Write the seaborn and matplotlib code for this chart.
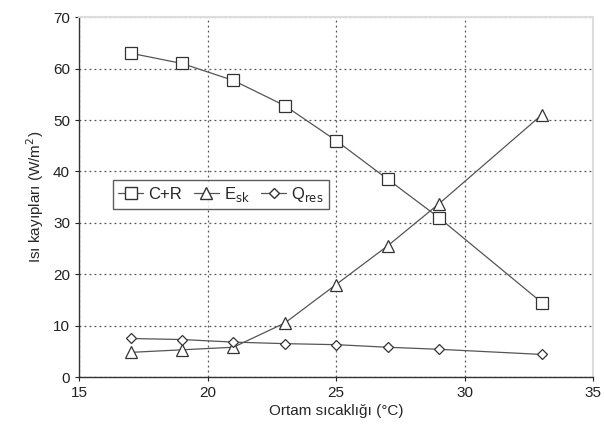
import numpy as np
import pandas as pd
import seaborn as sns
import matplotlib.pyplot as plt
from matplotlib.lines import Line2D

temperature = [17, 19, 21, 23, 25, 27, 29, 33]
c_plus_r = [63.0, 61.0, 57.7, 52.8, 46.0, 38.5, 31.0, 14.5]
e_sk = [4.8, 5.3, 5.8, 10.5, 18.0, 25.5, 33.7, 51.0]
q_res = [7.5, 7.3, 6.8, 6.5, 6.3, 5.8, 5.4, 4.4]

series_names = ["C+R", "E$_{\\mathrm{sk}}$", "Q$_{\\mathrm{res}}$"]
series_markers = ["s", "^", "D"]
marker_sizes = [8, 8, 5.5]

df = pd.DataFrame({"T": temperature, "C+R": c_plus_r, "E": e_sk, "Q": q_res})
long_df = df.melt(id_vars="T", var_name="series", value_name="loss")

sns.set_style("white")
plt.rcParams["font.family"] = ["Liberation Sans", "DejaVu Sans"]

fig = plt.figure(figsize=(6.04, 4.41), dpi=100)
ax = fig.add_axes([0.131, 0.145, 0.851, 0.816])

for key, mk, ms in zip(["C+R", "E", "Q"], series_markers, marker_sizes):
    sub = long_df[long_df["series"] == key]
    sns.lineplot(data=sub, x="T", y="loss", ax=ax, color="#555555", linewidth=0.9,
                 marker=mk, markersize=ms, markerfacecolor="white",
                 markeredgecolor="#333333", markeredgewidth=0.9, legend=False)

ax.set_xlim(15, 35)
ax.set_ylim(0, 70)
ax.set_xticks(range(15, 36, 5))
ax.set_yticks(range(0, 71, 10))
ax.grid(True, linestyle=(0, (1.5, 2.5)), color="#555555", linewidth=0.9)
ax.tick_params(axis="both", labelsize=11, length=3, direction="out", colors="#222222")
ax.tick_params(left=True, bottom=True)

for side in ["top", "right"]:
    ax.spines[side].set_color("#dddddd")
    ax.spines[side].set_linewidth(1.5)
for side in ["left", "bottom"]:
    ax.spines[side].set_color("#333333")
    ax.spines[side].set_linewidth(1.0)

ax.set_xlabel("Ortam sıcaklığı (°C)", fontsize=11, labelpad=3)
ax.set_ylabel("Isı kayıpları (W/m$^2$)", fontsize=11, labelpad=5)

handles = [Line2D([0], [0], color="#555555", linewidth=0.9, marker=mk, markersize=ms,
                  markerfacecolor="white", markeredgecolor="#333333")
           for mk, ms in zip(series_markers, marker_sizes)]
leg = ax.legend(handles, series_names, ncol=3, loc="upper left",
                bbox_to_anchor=(0.05, 0.57), fontsize=12, frameon=True,
                fancybox=False, edgecolor="#333333", handlelength=1.5,
                handletextpad=0.3, columnspacing=0.7, borderpad=0.3)
leg.get_frame().set_linewidth(1.0)

fig.savefig("out.png", dpi=100)
